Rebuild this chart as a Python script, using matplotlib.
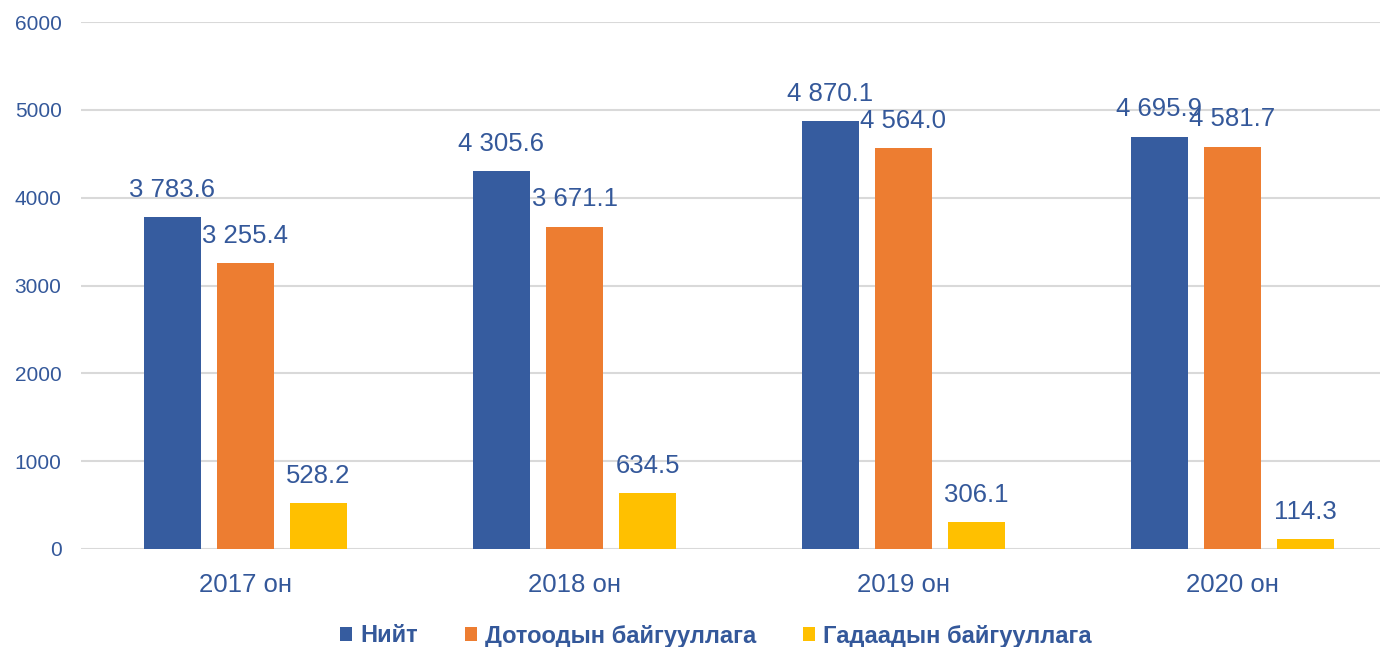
import numpy as np
import matplotlib
matplotlib.use("Agg")
import matplotlib.pyplot as plt
from matplotlib.patches import Patch

# data
years = ["2017 он", "2018 он", "2019 он", "2020 он"]
series_names = ["Нийт", "Дотоодын байгууллага", "Гадаадын байгууллага"]
total = [3783.6, 4305.6, 4870.1, 4695.9]
domestic = [3255.4, 3671.1, 4564.0, 4581.7]
foreign = [528.2, 634.5, 306.1, 114.3]
yticks = [0, 1000, 2000, 3000, 4000, 5000, 6000]

colors = ["#365C9F", "#ED7D31", "#FFC000"]
text_blue = "#34589A"

plt.rcParams["font.family"] = ["Liberation Sans", "DejaVu Sans"]

fig = plt.figure(figsize=(13.8, 6.47), dpi=100)
# plot area in pixels: left 81, zero line at y=549, 6000 at y=22
ax = fig.add_axes([81 / 1380, (647 - 549) / 647, 1299 / 1380, 527 / 647])

x = np.arange(len(years))
width = 0.173
offsets = [-0.222, 0.0, 0.222]

for vals, off, col in zip([total, domestic, foreign], offsets, colors):
    bars = ax.bar(x + off, vals, width, color=col, zorder=3)
    for b, v in zip(bars, vals):
        label = f"{v:,.1f}".replace(",", " ")
        ax.annotate(label, (b.get_x() + b.get_width() / 2, v),
                    xytext=(0, 19.5), textcoords="offset points",
                    ha="center", va="center", fontsize=18.5,
                    color=text_blue, zorder=4)

ax.set_xlim(-0.5, -0.5 + 1299 / 329)
ax.set_ylim(0, 6000)
ax.set_yticks(yticks)
ax.set_xticks(x)
ax.set_xticklabels(years)
ax.tick_params(axis="y", length=0, pad=14, labelsize=15, labelcolor=text_blue)
ax.tick_params(axis="x", length=0, pad=17, labelsize=18.5, labelcolor=text_blue)
ax.grid(axis="y", color="#D9D9D9", linewidth=1.5, zorder=0)
for s in ax.spines.values():
    s.set_visible(False)

handles = [Patch(facecolor=c, edgecolor="none") for c in colors]
leg = fig.legend(handles, series_names, loc="center", bbox_to_anchor=(716 / 1380, 1 - 636 / 647),
                 ncol=3, frameon=False, handlelength=0.5, handleheight=0.55,
                 handletextpad=0.34, columnspacing=2.0,
                 prop={"family": ["Liberation Sans", "DejaVu Sans"],
                       "weight": "bold", "size": 17})
for t in leg.get_texts():
    t.set_color(text_blue)

fig.savefig("out.png", dpi=100)
